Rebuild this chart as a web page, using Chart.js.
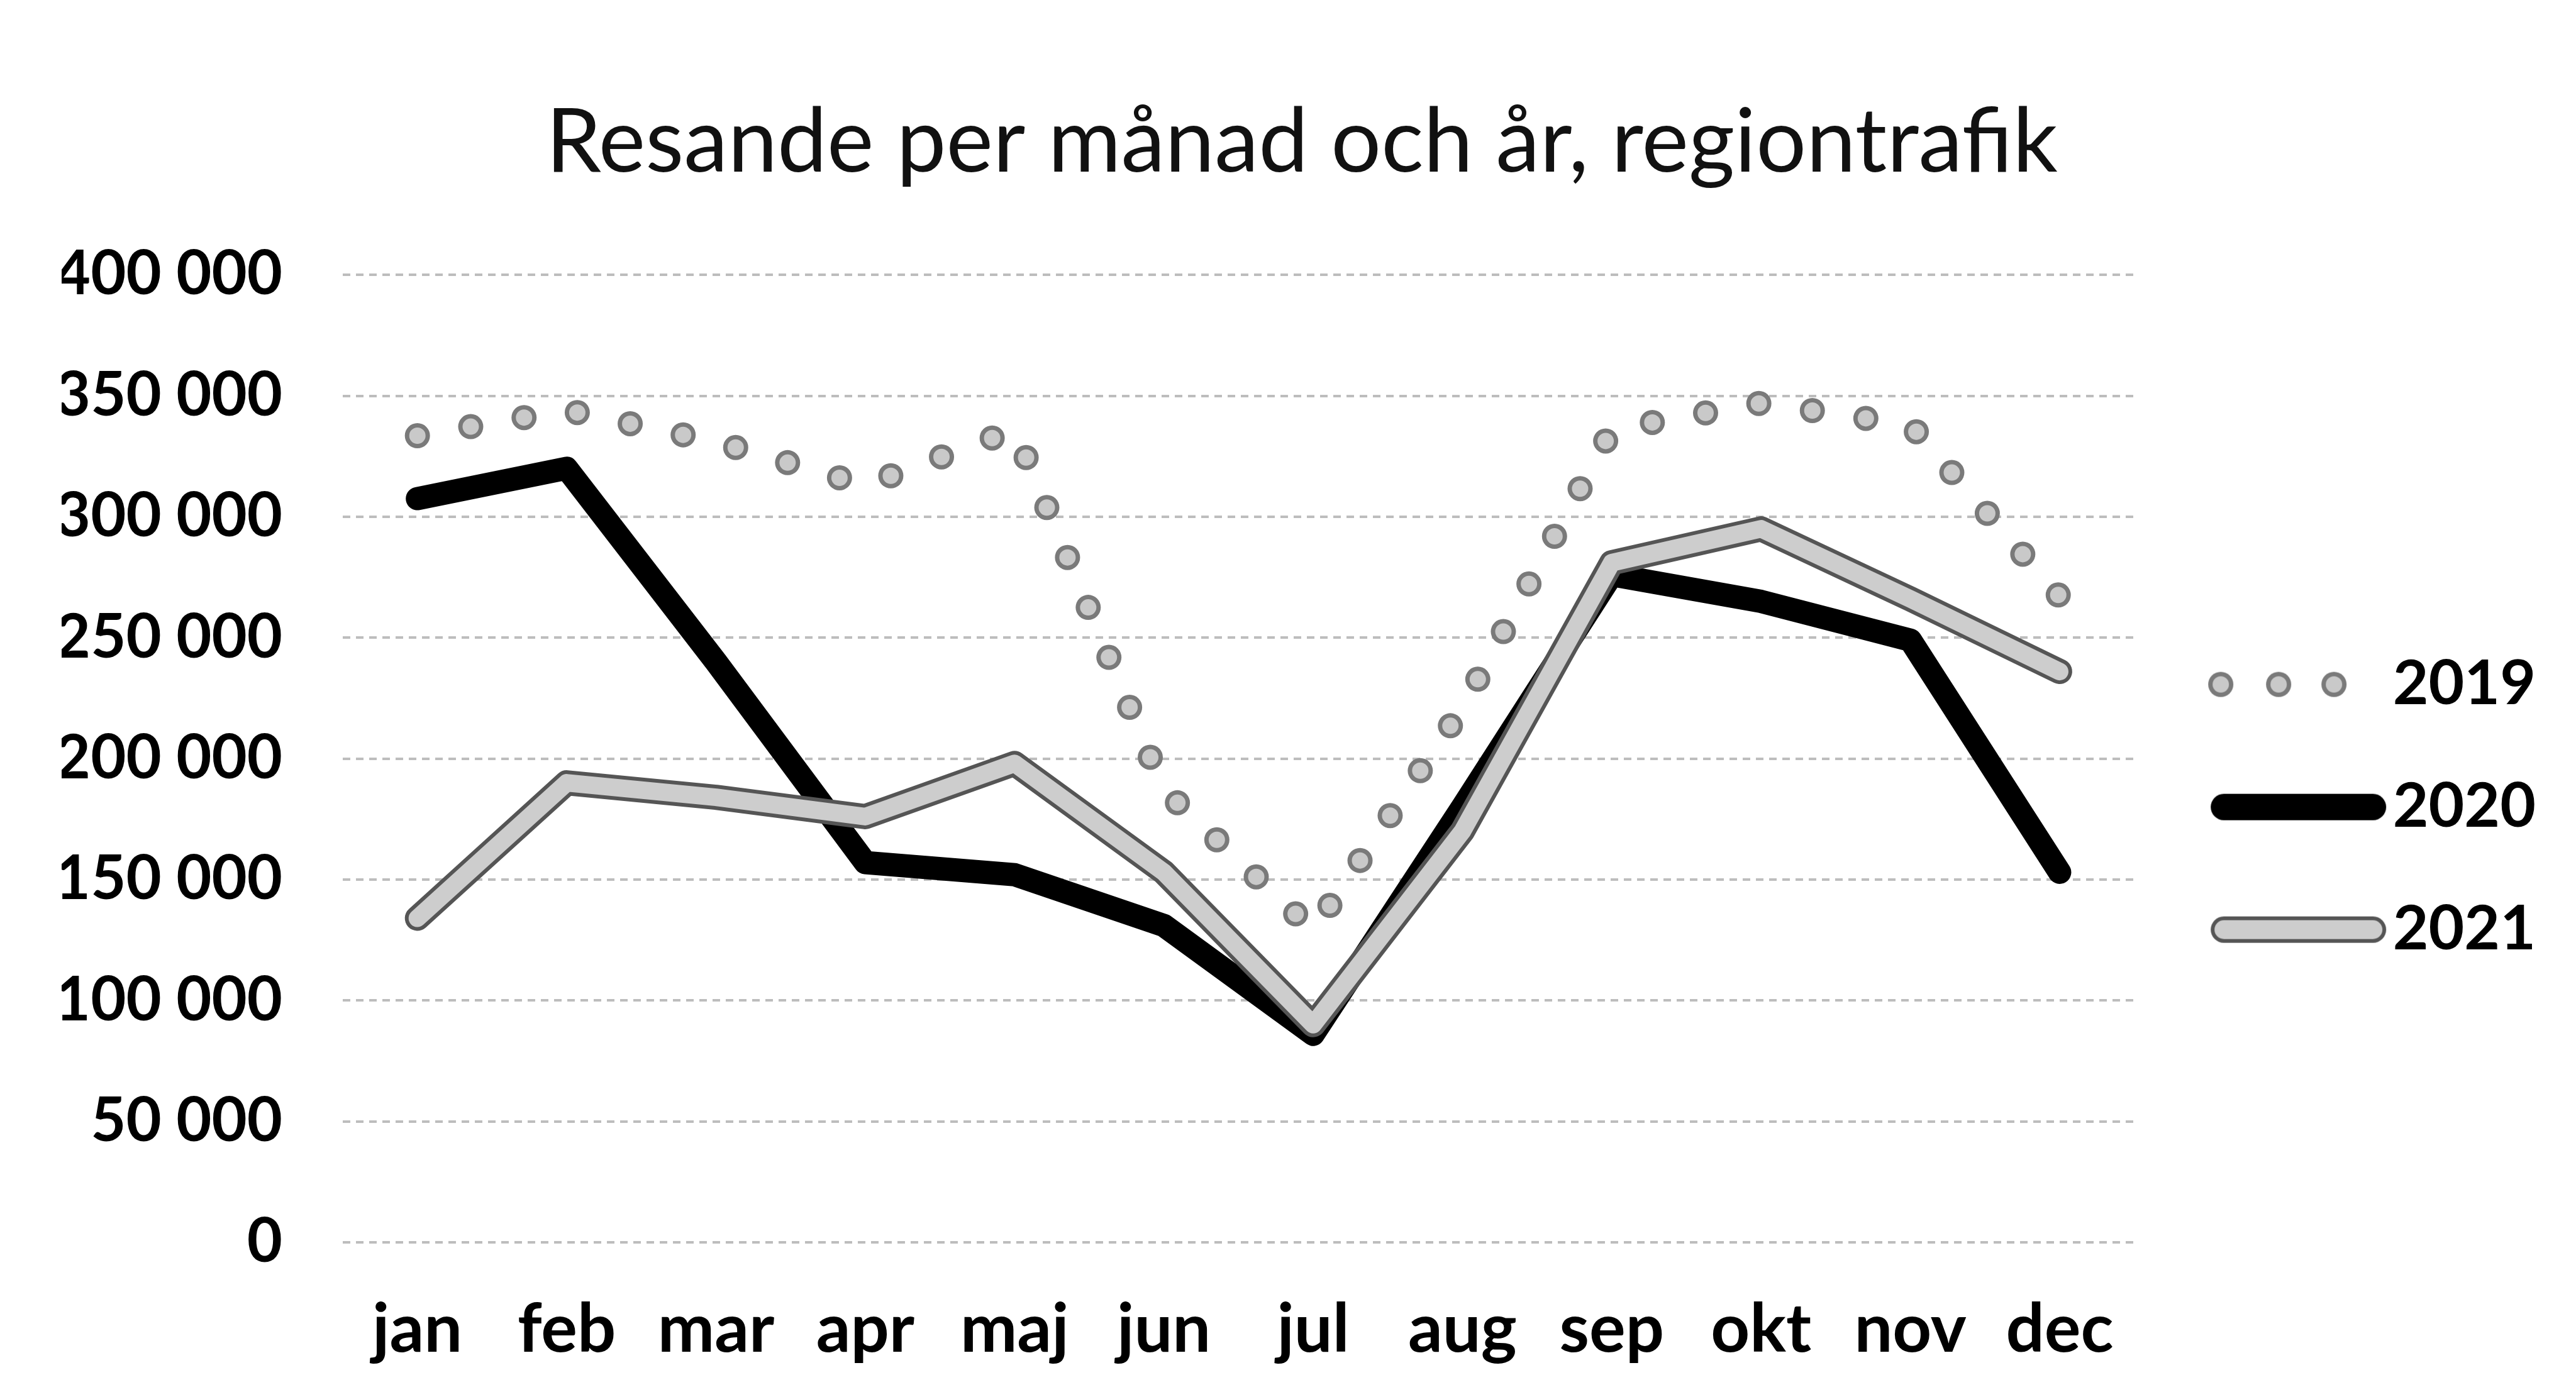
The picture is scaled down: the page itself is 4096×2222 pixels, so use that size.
<!DOCTYPE html>
<html>
<head>
<meta charset="utf-8">
<script src="https://cdn.jsdelivr.net/npm/chart.js@4.4.1/dist/chart.umd.min.js"></script>
<style>
  html, body { margin: 0; padding: 0; background: #fff; }
</style>
</head>
<body>
<canvas id="resande" width="4096" height="2222"></canvas>
<script>
// data
const months = ["jan", "feb", "mar", "apr", "maj", "jun", "jul", "aug", "sep", "okt", "nov", "dec"];
const y2019 = [333500, 344000, 331000, 313000, 336000, 187000, 129000, 221000, 336000, 347000, 338000, 267000];
const y2020 = [307500, 320000, 240000, 157000, 152000, 131000, 86000, 180000, 276000, 265000, 249000, 153000];
const y2021 = [134000, 190000, 184000, 176000, 198000, 153000, 90000, 170000, 281000, 295000, 266000, 236000];
const yTickLabels = ["0", "50 000", "100 000", "150 000", "200 000", "250 000", "300 000", "350 000", "400 000"];

const dotDark = "#7a7a7a", dotLight = "#c9c9c9";
const grayDark = "#555555", grayLight = "#cdcdcd";

Chart.defaults.font.family = "Lato";
Chart.defaults.color = "#000";

// legend samples
function legendDots() {
    let c = document.createElement("canvas");
    c.width = 300; c.height = 60;
    let g = c.getContext("2d");
    [58, 150, 238].forEach(x => {
        g.beginPath(); g.arc(x, 30, 20, 0, 2 * Math.PI); g.fillStyle = dotDark; g.fill();
        g.beginPath(); g.arc(x, 30, 13, 0, 2 * Math.PI); g.fillStyle = dotLight; g.fill();
    });
    return c;
}

function legendBar(outer, inner) {
    let c = document.createElement("canvas");
    c.width = 346; c.height = 60;
    let g = c.getContext("2d");
    g.lineCap = "round";
    g.beginPath(); g.moveTo(86, 30); g.lineTo(323, 30);
    g.strokeStyle = outer; g.lineWidth = 42; g.stroke();
    if (inner) {
        g.beginPath(); g.moveTo(86, 30); g.lineTo(323, 30);
        g.strokeStyle = inner; g.lineWidth = 30; g.stroke();
    }
    return c;
}

let ctx = document.getElementById("resande").getContext("2d");
let chart = new Chart(ctx, {
    type: "line",
    data: {
        labels: months,
        datasets: [
            {
                label: "2019", data: y2019, legendImg: legendDots(),
                borderColor: dotDark, borderWidth: 40, borderDash: [0, 86],
                borderCapStyle: "round", borderJoinStyle: "round", order: 4
            },
            {
                label: "2019 inner", data: y2019,
                borderColor: dotLight, borderWidth: 26, borderDash: [0, 86],
                borderCapStyle: "round", borderJoinStyle: "round", order: 3
            },
            {
                label: "2020", data: y2020, legendImg: legendBar("#000", null),
                borderColor: "#000", borderWidth: 37,
                borderCapStyle: "round", borderJoinStyle: "round", order: 2
            },
            {
                label: "2021", data: y2021, legendImg: legendBar(grayDark, grayLight),
                borderColor: grayDark, borderWidth: 40,
                borderCapStyle: "round", borderJoinStyle: "round", order: 1
            },
            {
                label: "2021 inner", data: y2021,
                borderColor: grayLight, borderWidth: 28,
                borderCapStyle: "round", borderJoinStyle: "round", order: 0
            }
        ]
    },
    options: {
        responsive: false,
        animation: false,
        devicePixelRatio: 1,
        elements: { point: { radius: 0, hoverRadius: 0 }, line: { tension: 0 } },
        layout: { padding: { left: 98, right: 54, top: 0, bottom: 0 } },
        plugins: {
            tooltip: { enabled: false },
            title: {
                display: true,
                text: "Resande per månad och år, regiontrafik",
                color: "#111",
                font: { size: 141, weight: "normal" },
                padding: { top: 143, bottom: 125 }
            },
            legend: {
                position: "right",
                fullSize: false,
                title: { display: true, text: "", font: { size: 1, lineHeight: 1 }, padding: { top: 0, bottom: 153 } },
                labels: {
                    usePointStyle: true,
                    pointStyleWidth: 265,
                    padding: 97,
                    color: "#000",
                    font: { size: 98, weight: "bold" },
                    generateLabels: c => c.data.datasets
                        .map((ds, i) => ({
                            text: ds.label, pointStyle: ds.legendImg, datasetIndex: i,
                            fillStyle: ds.borderColor, strokeStyle: ds.borderColor,
                            lineWidth: 0, hidden: false
                        }))
                        .filter(it => it.pointStyle)
                }
            }
        },
        scales: {
            x: {
                offset: true,
                afterFit: s => { s.height = 246; },
                grid: { display: false, drawTicks: false },
                border: { display: false },
                ticks: { padding: 74, font: { size: 108, weight: "bold" }, maxRotation: 0 }
            },
            y: {
                min: 0, max: 400000,
                afterFit: s => { s.width = 447; },
                grid: { color: "#bdbdbd", lineWidth: 4, drawTicks: false },
                border: { display: false, dash: [12, 9] },
                ticks: {
                    stepSize: 50000, padding: 96,
                    font: { size: 97, weight: "bold" },
                    callback: (v, i) => yTickLabels[i]
                }
            }
        }
    }
});
</script>
</body>
</html>
